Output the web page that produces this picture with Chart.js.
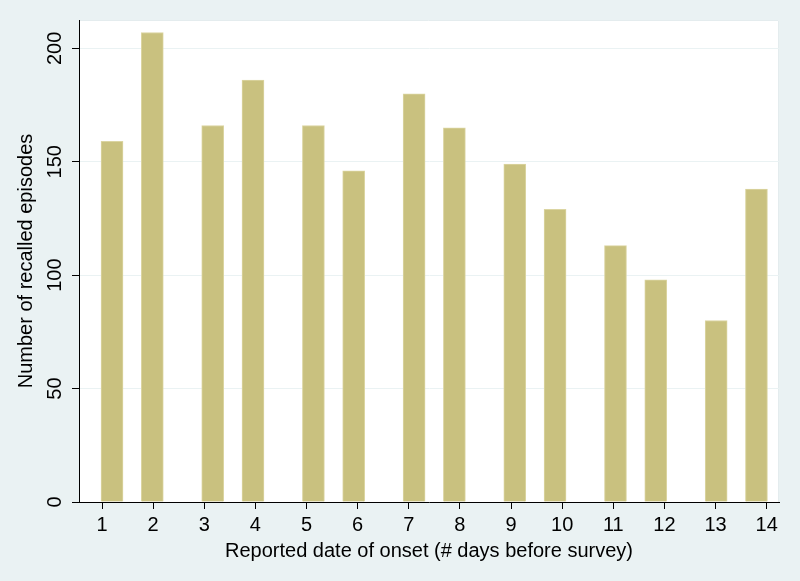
<!DOCTYPE html>
<html>
<head>
<meta charset="utf-8">
<script src="https://cdn.jsdelivr.net/npm/chart.js@4"></script>
<style>
  html, body { margin: 0; padding: 0; background: #eaf2f3; }
  #wrap { width: 800px; height: 581px; }
</style>
</head>
<body>
<div id="wrap"><canvas id="barChart" width="800" height="581"></canvas></div>
<script>
// days before survey, and number of episodes recalled for each
var days = [1, 2, 3, 4, 5, 6, 7, 8, 9, 10, 11, 12, 13, 14];
var episodes = [159, 207, 166, 186, 166, 146, 180, 165, 149, 129, 113, 98, 80, 138];
var yTicks = [0, 50, 100, 150, 200];

// bars sit in pairs: slot 0,2 then 5,7 then 10,12 ...
var barPoints = days.map(function (d, i) {
    return { x: Math.floor(i / 2) * 5 + (i % 2) * 2, y: episodes[i] };
});

var bgPlugin = {
    id: 'bg',
    beforeDraw: function (chart) {
        var ctx = chart.ctx, a = chart.chartArea;
        ctx.save();
        ctx.fillStyle = '#eaf2f3';
        ctx.fillRect(0, 0, chart.width, chart.height);
        ctx.fillStyle = '#ffffff';
        ctx.fillRect(a.left, a.top, a.right - a.left, a.bottom - a.top);
        ctx.strokeStyle = '#e4ecee';
        ctx.lineWidth = 1;
        ctx.beginPath();
        ctx.moveTo(a.left, a.top + 0.5);
        ctx.lineTo(a.right - 0.5, a.top + 0.5);
        ctx.lineTo(a.right - 0.5, a.bottom);
        ctx.stroke();
        ctx.restore();
    }
};

var textFont = { family: 'Liberation Sans, Arial, sans-serif', size: 20 };

var ctx = document.getElementById('barChart').getContext('2d');
new Chart(ctx, {
    type: 'bar',
    data: {
        datasets: [{
            label: 'Episodes',
            data: barPoints,
            xAxisID: 'x2',
            backgroundColor: '#c9c17f',
            borderColor: '#dbd5a2',
            borderWidth: 1,
            barThickness: 22
        }]
    },
    options: {
        responsive: false,
        animation: false,
        layout: { padding: { left: 0, right: 21, top: 20, bottom: 0 } },
        plugins: {
            legend: { display: false },
            tooltip: { enabled: false }
        },
        scales: {
            x2: {
                type: 'linear',
                display: false,
                offset: false,
                grid: { offset: false },
                min: -1.64,
                max: 33.12
            },
            x: {
                type: 'linear',
                position: 'bottom',
                offset: false,
                min: 0.55,
                max: 14.24,
                afterBuildTicks: function (scale) {
                    scale.ticks = days.map(function (d) { return { value: d }; });
                },
                afterFit: function (scale) { scale.height = 79; },
                grid: {
                    offset: false,
                    drawOnChartArea: false,
                    tickLength: 7,
                    tickColor: '#000000'
                },
                border: { display: true, color: '#000000', width: 1 },
                ticks: {
                    color: '#000000',
                    font: textFont,
                    padding: 4,
                    maxRotation: 0,
                    autoSkip: false
                },
                title: {
                    display: true,
                    text: 'Reported date of onset (# days before survey)',
                    color: '#000000',
                    font: textFont,
                    padding: { top: 0, bottom: 18 }
                }
            },
            y: {
                min: 0,
                max: 212.5,
                afterBuildTicks: function (scale) {
                    scale.ticks = yTicks.map(function (v) { return { value: v }; });
                },
                afterFit: function (scale) { scale.width = 79; },
                grid: {
                    color: function (c) { return c.tick && c.tick.value === 0 ? 'rgba(0,0,0,0)' : '#eaf2f3'; },
                    tickLength: 7,
                    tickColor: '#000000'
                },
                border: { display: true, color: '#000000', width: 1 },
                ticks: {
                    color: '#000000',
                    font: textFont,
                    padding: 0,
                    minRotation: 90,
                    maxRotation: 90,
                    crossAlign: 'center'
                },
                title: {
                    display: true,
                    text: 'Number of recalled episodes',
                    color: '#000000',
                    font: textFont,
                    padding: { top: 14, bottom: 0 }
                }
            }
        }
    },
    plugins: [bgPlugin]
});
</script>
</body>
</html>
